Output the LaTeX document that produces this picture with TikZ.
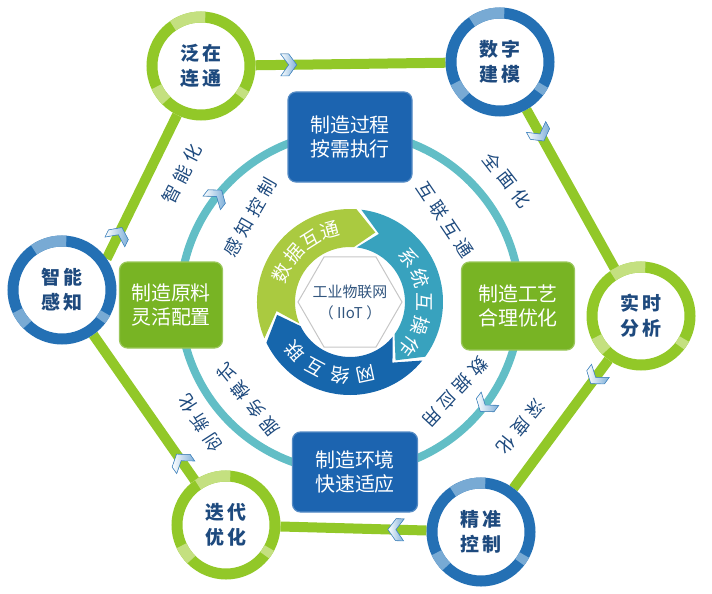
\documentclass[tikz,border=0pt]{standalone}
\usepackage{fontspec}
\newfontfamily\cjk{Noto Sans CJK SC}
\usetikzlibrary{calc}
\usetikzlibrary{positioning}
\pgfdeclarelayer{background}
\pgfsetlayers{background,main}

\definecolor{hexgreen}{RGB}{146,200,40}
\definecolor{hexgreenlt}{RGB}{196,224,128}
\definecolor{hubblue}{RGB}{36,112,180}
\definecolor{hubbluelt}{RGB}{120,170,212}
\definecolor{ringteal}{RGB}{98,190,198}
\definecolor{boxblue}{RGB}{28,100,176}
\definecolor{boxgreen}{RGB}{120,180,36}
\definecolor{txtblue}{RGB}{30,74,126}
\definecolor{arcgreen}{RGB}{170,202,64}
\definecolor{arcteal}{RGB}{56,162,190}
\definecolor{arcblue}{RGB}{22,102,172}
\definecolor{chevblue}{RGB}{70,140,200}

\newcommand\chevron[3]{% from, to, fraction
  \path let \p1=($(#2)-(#1)$), \n1={atan2(\y1,\x1)} in
    pic[rotate=\n1] at ($(#1)!#3!(#2)$) {chev};}

\newcommand\cyclearrow[3]{% tail, head, colour
  \fill[#3] ($(ctr)+(#1+13:93)$) arc[start angle=#1+13, end angle=#2+16, radius=93]
    -- ($(ctr)+(#2:74)$) -- ($(ctr)+(#2+16:55)$)
    arc[start angle=#2+16, end angle=#1+13, radius=55]
    -- ($(ctr)+(#1-3:74)$) -- cycle;}

\newcommand\alonglabel[4]{% centre, angle, number of characters, characters
  \foreach \ch [count=\i] in {#4}
    \node[lbl, rotate=#2] at ($(#1)+(#2:{(\i-(#3+1)/2)*23})$) {\ch};}

\begin{document}
\begin{tikzpicture}[x=1bp, y=1bp,
    hub/.style={circle, draw=#1, line width=11bp, fill=white, minimum size=98bp,
      inner sep=0pt, text=txtblue, align=center,
      font=\cjk\bfseries\fontsize{19}{25}\selectfont},
    task/.style={rounded corners=8bp, draw=#1!75!white, line width=1.2bp,
      fill=#1, text=white, align=center, font=\cjk\fontsize{20}{24}\selectfont},
    hexline/.style={hexgreen, line width=10bp},
    ring/.style={ringteal, line width=8bp},
    lbl/.style={text=txtblue, font=\cjk\fontsize{18}{18}\selectfont},
    arcchar/.style={text=white, font=\cjk\fontsize{19}{19}\selectfont},
    chev/.pic={\filldraw[draw=chevblue, line width=0.6bp, left color=white, right color=chevblue!70]
      (-7,11) -- (1,11) -- (9,0) -- (1,-11) -- (-7,-11) -- (1,0) -- cycle;}]
  \def\rring{170}
  \useasboundingbox (0,0) rectangle (712,-594);
  \coordinate (ctr) at (350,-302);

  % six hubs round the hexagon
  \node[hub=hexgreen] (fz) at (201,-66)  {泛\hspace{3bp}在\\连\hspace{3bp}通};
  \node[hub=hubblue]  (sz) at (500,-62)  {数\hspace{3bp}字\\建\hspace{3bp}模};
  \node[hub=hexgreen] (ss) at (641,-316) {实\hspace{3bp}时\\分\hspace{3bp}析};
  \node[hub=hubblue]  (jz) at (481,-532) {精\hspace{3bp}准\\控\hspace{3bp}制};
  \node[hub=hexgreen] (dd) at (226,-525) {迭\hspace{3bp}代\\优\hspace{3bp}化};
  \node[hub=hubblue]  (zn) at (62,-290)  {智\hspace{3bp}能\\感\hspace{3bp}知};

  \foreach \h/\hl in {fz/hexgreenlt, sz/hubbluelt, ss/hexgreenlt, jz/hubbluelt, dd/hexgreenlt, zn/hubbluelt} {
    \draw[\hl, line width=11bp] ($(\h)+(85:49)$) arc[start angle=85, end angle=125, radius=49];
    \draw[\hl, line width=11bp] ($(\h)+(205:49)$) arc[start angle=205, end angle=225, radius=49];
    \draw[\hl, line width=11bp] ($(\h)+(-38:49)$) arc[start angle=-38, end angle=-28, radius=49];
  }

  \begin{pgfonlayer}{background}
    \draw[hexline] (fz) -- (sz) -- (ss) -- (jz) -- (dd) -- (zn);
    \draw[hexline] (zn.35) -- (fz);
    \draw[ring] (ctr) circle[radius=\rring];
  \end{pgfonlayer}

  \chevron{fz}{sz}{0.29}
  \chevron{sz}{ss}{0.28}
  \chevron{ss}{jz}{0.28}
  \chevron{jz}{dd}{0.33}
  \chevron{dd}{zn}{0.27}
  \chevron{zn.35}{fz}{0.12}
  \pic[rotate=52] at ($(ctr)+(142:\rring)$) {chev};
  \pic[rotate=-127] at ($(ctr)+(-37:\rring)$) {chev};

  % four boxes on the ring
  \node[task=boxblue, minimum width=124bp, minimum height=90bp] (gc) at (350,-137) {制造过程\\按需执行};
  \node[task=boxgreen, minimum width=113bp, minimum height=88bp] (gy) at (518,-306) {制造工艺\\合理优化};
  \node[task=boxblue, minimum width=125bp, minimum height=80bp] (hj) at (355,-472) {制造环境\\快速适应};
  \node[task=boxgreen, minimum width=103bp, minimum height=86bp] (yl) at (171,-305) {制造原料\\灵活配置};

  % labels along the hexagon
  \coordinate (l1) at (182,-174);
  \coordinate (l2) at (507,-180);
  \coordinate (l3) at (521,-427);
  \coordinate (l4) at (200,-423);
  \alonglabel{l1}{63}{3}{智,能,化}
  \alonglabel{l2}{-52}{3}{全,面,化}
  \alonglabel{l3}{-129}{3}{深,度,化}
  \alonglabel{l4}{123}{3}{创,新,化}

  % labels inside the ring
  \coordinate (r1) at (250,-217);
  \coordinate (r2) at (445,-220);
  \coordinate (r3) at (455,-392);
  \coordinate (r4) at (248,-400);
  \alonglabel{r1}{60}{4}{感,知,控,制}
  \alonglabel{r2}{-56}{4}{互,联,互,通}
  \alonglabel{r3}{-133}{4}{数,据,应,用}
  \alonglabel{r4}{129}{4}{服,务,模,式}

  % centre cycle
  \cyclearrow{190}{70}{arcgreen}
  \cyclearrow{70}{-52}{arcteal}
  \cyclearrow{-52}{-170}{arcblue}
  \foreach \ch [count=\i, evaluate=\i as \a using 156.5-(\i-1)*17] in {数,据,互,通}
    \node[arcchar, rotate=\a-90] at ($(ctr)+(\a:74)$) {\ch};
  \foreach \ch [count=\i, evaluate=\i as \a using 37-(\i-1)*18.5] in {系,统,互,操,作}
    \node[arcchar, rotate=\a-90] at ($(ctr)+(\a:74)$) {\ch};
  \foreach \ch [count=\i, evaluate=\i as \a using -78-(\i-1)*20] in {网,络,互,联}
    \node[arcchar, rotate=\a-90] at ($(ctr)+(\a:74)$) {\ch};

  \draw[gray!45, line width=1bp] ($(ctr)+(0:52)$) -- ($(ctr)+(60:52)$) -- ($(ctr)+(120:52)$)
    -- ($(ctr)+(180:52)$) -- ($(ctr)+(240:52)$) -- ($(ctr)+(300:52)$) -- cycle;
  \node[text=txtblue!80!gray, align=center, font=\cjk\fontsize{15}{21}\selectfont] (iiot) at (ctr)
    {工业物联网\\（ IIoT ）};
\end{tikzpicture}
\end{document}
